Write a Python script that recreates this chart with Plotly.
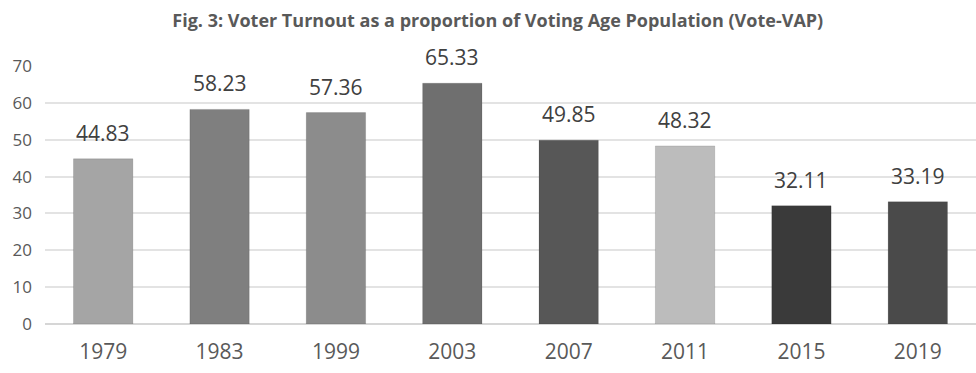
import plotly.graph_objects as go

years = ["1979", "1983", "1999", "2003", "2007", "2011", "2015", "2019"]
turnout = [44.83, 58.23, 57.36, 65.33, 49.85, 48.32, 32.11, 33.19]
bar_colors = ["#a5a5a5", "#7f7f7f", "#8c8c8c", "#6f6f6f",
              "#575757", "#bcbcbc", "#3a3a3a", "#4a4a4a"]
y_ticks = [0, 10, 20, 30, 40, 50, 60, 70]

FONT = "Open Sans, sans-serif"
pos = list(range(len(years)))

fig = go.Figure()
fig.add_trace(go.Bar(
    x=pos, y=turnout,
    marker=dict(color=bar_colors, line=dict(color="rgba(0,0,0,0.12)", width=1)),
    width=0.51,
    customdata=years,
    hovertemplate="%{customdata}: %{y}<extra></extra>",
))

# value labels above each bar
for i, v in zip(pos, turnout):
    fig.add_annotation(x=i, y=v, text=f"{v:.2f}", showarrow=False,
                       yanchor="bottom", yshift=10,
                       font=dict(family=FONT, size=21, color="#404040"))

fig.update_layout(
    width=976, height=373,
    margin=dict(l=45, r=0, t=66, b=49),
    paper_bgcolor="white", plot_bgcolor="white",
    showlegend=False,
    title=dict(text="<b>Fig. 3: Voter Turnout as a proportion of Voting Age Population (Vote-VAP)</b>",
               x=0.51, xanchor="center", y=0.945, yanchor="middle",
               font=dict(family=FONT, size=18, color="#595959")),
    xaxis=dict(range=[-0.5, len(years) - 0.5], tickvals=pos, ticktext=years,
               tickfont=dict(family=FONT, size=21, color="#595959"),
               showgrid=False, showline=False, zeroline=False, ticks="",
               ticklabelstandoff=13),
    yaxis=dict(range=[0, 70], tickvals=y_ticks,
               tickfont=dict(family=FONT, size=17, color="#595959"),
               showgrid=True, gridcolor="#e3e3e3", gridwidth=1.5,
               zeroline=True, zerolinecolor="#d6d6d6", zerolinewidth=1.5,
               showline=False, ticks="", ticklabelstandoff=12),
)

fig.write_html("out.html")
